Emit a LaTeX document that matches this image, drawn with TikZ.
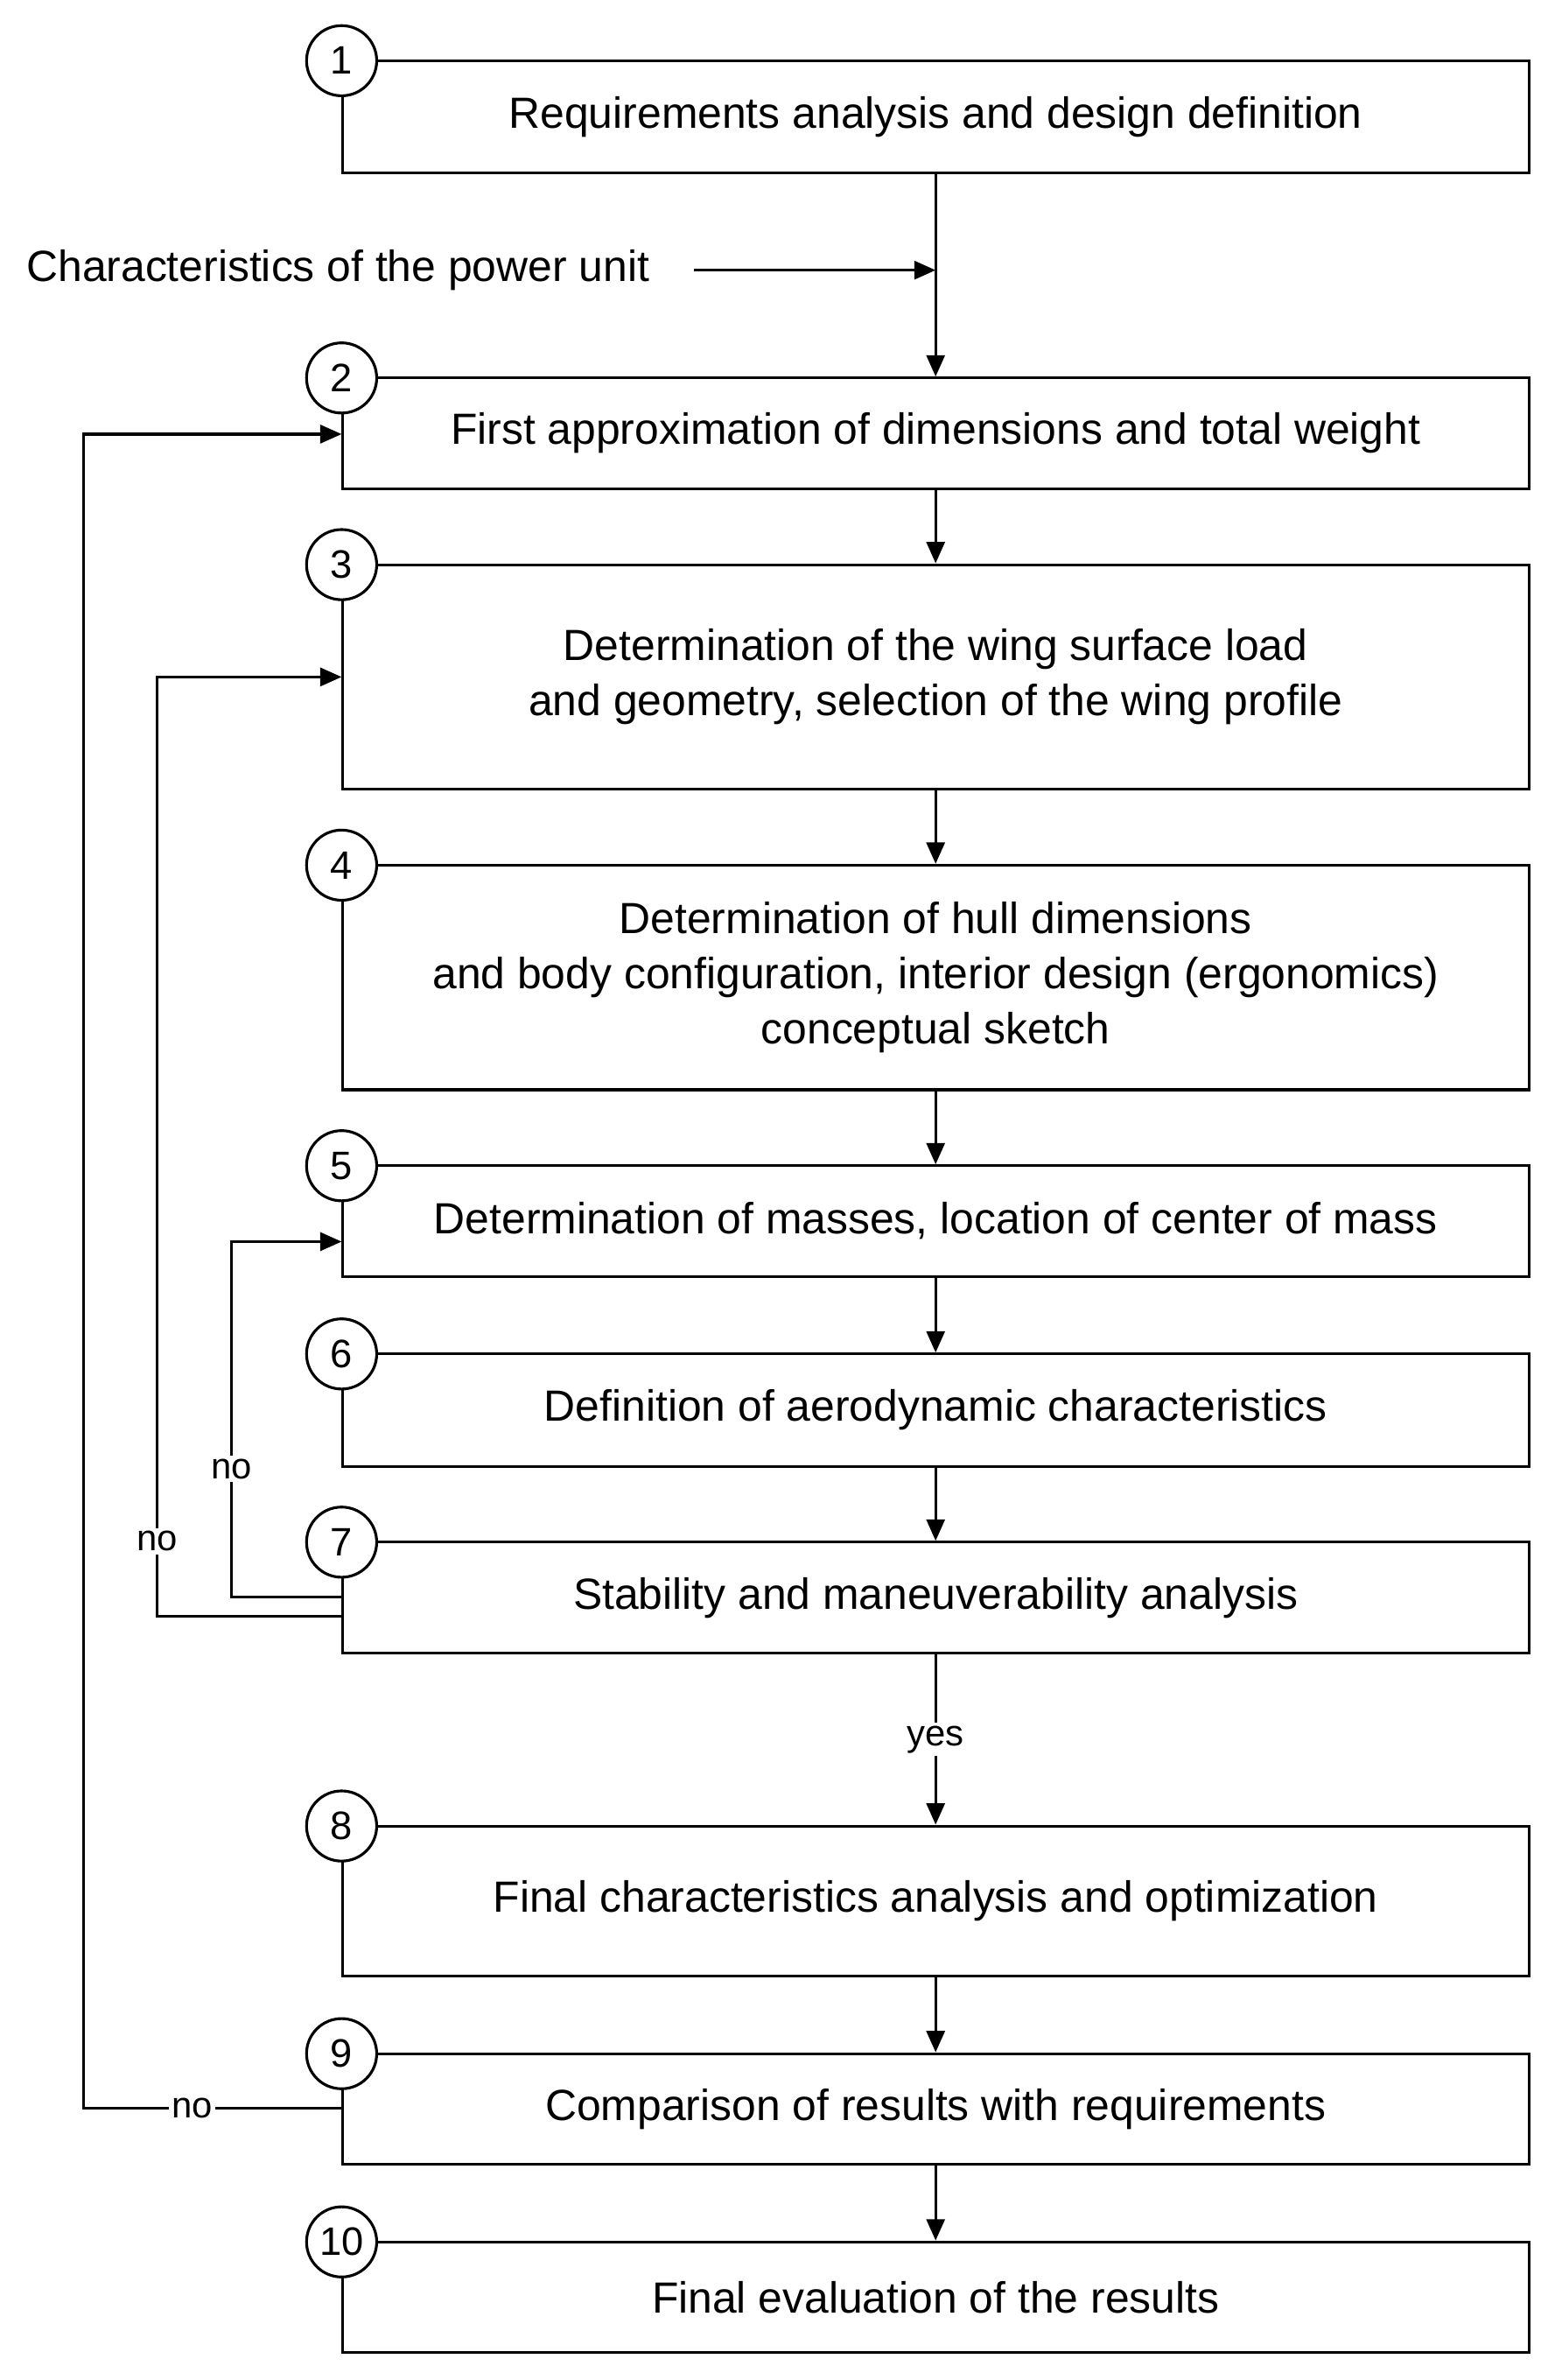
\documentclass[tikz,border=0pt]{standalone}
\usepackage{fontspec}
\setmainfont{Liberation Sans}
\usetikzlibrary{arrows.meta}
\begin{document}
\begin{tikzpicture}[x=0.5pt,y=-0.4975pt,
  box/.style={draw,line width=0.9pt,minimum width=389pt,align=center,font=\fontsize{14.3}{18}\selectfont},
  num/.style={draw,circle,fill=white,line width=0.9pt,minimum size=23pt,inner sep=0pt,font=\fontsize{13}{15}\selectfont},
  arr/.style={-{Triangle[length=7pt,width=6pt]},line width=0.9pt},
  lbl/.style={font=\fontsize{12}{14}\selectfont,inner sep=1pt}]
\useasboundingbox (0,0) rectangle (1024,1568);
\foreach \n/\t/\b/\txt in {
  1/40/114/{Requirements analysis and design definition},
  2/249/322/{First approximation of dimensions and total weight},
  3/372/520/{Determination of the wing surface load\\and geometry, selection of the wing profile},
  4/570/718/{Determination of hull dimensions\\and body configuration, interior design (ergonomics)\\conceptual sketch},
  5/768/841/{Determination of masses, location of center of mass},
  6/892/966/{Definition of aerodynamic characteristics},
  7/1016/1089/{Stability and maneuverability analysis},
  8/1203/1302/{Final characteristics analysis and optimization},
  9/1353/1426/{Comparison of results with requirements},
  10/1477/1550/{Final evaluation of the results}}{
  \node[box,minimum height={(\b-\t)*0.4975pt}] (b\n) at (613.5,{(\t+\b)/2}) {\txt};
  \node[num] (c\n) at (224,\t) {\n};
}
\node[lbl,font=\fontsize{14.3}{17}\selectfont,anchor=west] (pu) at (15,178) {Characteristics of the power unit};
\coordinate (j) at (613.5,178);
\draw[arr] (455,178) -- (j);
\draw[arr] (b1.south) -- (b2.north);
\foreach \a/\b in {2/3,3/4,4/5,5/6,6/7,8/9,9/10}{\draw[arr] (b\a.south) -- (b\b.north);}
\draw[arr] (b7.south) -- node[lbl,fill=white]{yes} (b8.north);
\coordinate (f5) at (224,818);
\coordinate (f3) at (224,446);
\coordinate (f2) at (224,286);
\draw[arr] (224,1052) -- (152,1052) -- node[lbl,fill=white,pos=0.36]{no} (152,818) -- (f5);
\draw[arr] (224,1065) -- (103,1065) -- node[lbl,fill=white,pos=0.08]{no} (103,446) -- (f3);
\draw[arr] (224,1389) -- node[lbl,fill=white,pos=0.58]{no} (55,1389) -- (55,286) -- (f2);
\end{tikzpicture}
\end{document}
